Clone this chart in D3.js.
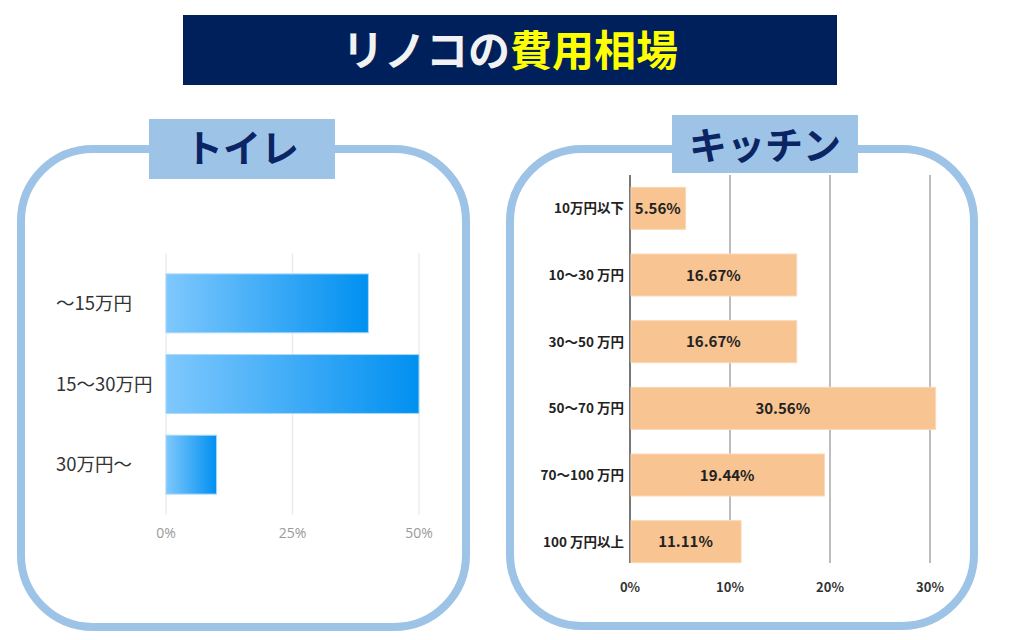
<!DOCTYPE html>
<html><head><meta charset="utf-8">
<script src="https://cdn.jsdelivr.net/npm/d3@7"></script>
<style>body{margin:0;background:#fff}svg{display:block}</style>
</head><body>
<svg id="c" width="1024" height="640"></svg>
<script>
const titleWhite = "リノコの";
const titleYellow = "費用相場";
const toiletTitle = "トイレ";
const toiletCats = ["～15万円", "15～30万円", "30万円～"];
const toiletVals = [40, 50, 10];
const toiletTicks = [0, 25, 50];
const kitchenTitle = "キッチン";
const kitchenCats = ["10万円以下", "10～30 万円", "30～50 万円", "50～70 万円", "70～100 万円", "100 万円以上"];
const kitchenVals = [5.56, 16.67, 16.67, 30.56, 19.44, 11.11];
const kitchenTicks = [0, 10, 20, 30];

const svg = d3.select("#c");
const JP = "'Noto Sans CJK JP','Noto Sans',sans-serif";
const defs = svg.append("defs");
const grad = defs.append("linearGradient").attr("id","bg").attr("x1","0%").attr("x2","100%");
grad.append("stop").attr("offset","0%").attr("stop-color","#7fc8fd");
grad.append("stop").attr("offset","100%").attr("stop-color","#0090f0");

// Title
svg.append("rect").attr("x",183).attr("y",15).attr("width",654).attr("height",70).attr("fill","#00205b");
const tt = svg.append("text").attr("x",510).attr("y",66).attr("text-anchor","middle")
  .attr("font-family",JP).attr("font-weight","bold").attr("font-size",42);
tt.append("tspan").attr("fill","#f2f2f2").text(titleWhite);
tt.append("tspan").attr("fill","#ffff00").text(titleYellow);

// Panels
function panel(x, y, w, h, bx, by, bw, bh, label, ty){
  svg.append("rect").attr("x",x).attr("y",y).attr("width",w).attr("height",h)
    .attr("rx",72).attr("ry",72).attr("fill","#fff").attr("stroke","#9dc3e6").attr("stroke-width",8);
  svg.append("rect").attr("x",bx).attr("y",by).attr("width",bw).attr("height",bh).attr("fill","#9dc3e6");
  svg.append("text").attr("x",bx+bw/2).attr("y",ty).attr("text-anchor","middle")
    .attr("font-family",JP).attr("font-weight","bold").attr("font-size",38).attr("fill","#0b2463").text(label);
}
panel(21,149,445,478,149,119,186,60,toiletTitle,162);
panel(510,149,464,477,672,115,186,58,kitchenTitle,159);

// Toilet chart
const x1 = d3.scaleLinear().domain([0,50]).range([166,419]);
const y1 = d3.scaleBand().domain(toiletCats).range([263,505]).paddingInner(0.27).paddingOuter(0.135);
const g1 = svg.append("g");
g1.selectAll("line.grid").data(toiletTicks).join("line")
  .attr("x1",d=>x1(d)).attr("x2",d=>x1(d)).attr("y1",253).attr("y2",515)
  .attr("stroke","#ececec").attr("stroke-width",1.5);
g1.selectAll("rect.bar").data(toiletVals).join("rect")
  .attr("x",x1(0)).attr("y",(d,i)=>y1(toiletCats[i]))
  .attr("width",d=>x1(d)-x1(0)).attr("height",y1.bandwidth())
  .attr("fill","url(#bg)").attr("stroke","#a9d8fb").attr("stroke-width",1);
g1.selectAll("text.cat").data(toiletCats).join("text")
  .attr("x",56).attr("y",d=>y1(d)+y1.bandwidth()/2).attr("dy","0.36em")
  .attr("font-family",JP).attr("font-size",18.5).attr("fill","#333").text(d=>d);
g1.selectAll("text.tick").data(toiletTicks).join("text")
  .attr("x",d=>x1(d)).attr("y",538).attr("text-anchor","middle")
  .attr("font-family","'Open Sans',sans-serif").attr("font-size",14).attr("fill","#9a9a9a").text(d=>d+"%");

// Kitchen chart
const x2 = d3.scaleLinear().domain([0,30]).range([630,930]);
const y2 = d3.scaleBand().domain(kitchenCats).range([175,575]).paddingInner(0.37).paddingOuter(0.185);
const g2 = svg.append("g");
g2.selectAll("line.grid").data(kitchenTicks).join("line")
  .attr("x1",d=>x2(d)).attr("x2",d=>x2(d)).attr("y1",175).attr("y2",563)
  .attr("stroke",d=>d===0?"#777":"#bdbdbd").attr("stroke-width",2);
g2.selectAll("rect.bar").data(kitchenVals).join("rect")
  .attr("x",x2(0)+1).attr("y",(d,i)=>y2(kitchenCats[i]))
  .attr("width",d=>x2(d)-x2(0)-1).attr("height",y2.bandwidth())
  .attr("fill","#f8c492").attr("stroke","#fbd8b5").attr("stroke-width",1);
g2.selectAll("text.val").data(kitchenVals).join("text")
  .attr("x",d=>(x2(0)+x2(d))/2).attr("y",(d,i)=>y2(kitchenCats[i])+y2.bandwidth()/2).attr("dy","0.38em")
  .attr("text-anchor","middle").attr("font-family",JP).attr("font-weight","bold").attr("font-size",15)
  .attr("fill","#222").text(d=>d.toFixed(2)+"%");
g2.selectAll("text.cat").data(kitchenCats).join("text")
  .attr("x",624).attr("y",d=>y2(d)+y2.bandwidth()/2).attr("dy","0.36em").attr("text-anchor","end")
  .attr("font-family",JP).attr("font-weight","bold").attr("font-size",13.5).attr("fill","#222").text(d=>d);
g2.selectAll("text.tick").data(kitchenTicks).join("text")
  .attr("x",d=>x2(d)).attr("y",592).attr("text-anchor","middle")
  .attr("font-family",JP).attr("font-weight","bold").attr("font-size",13).attr("fill","#333").text(d=>d+"%");
</script>
</body></html>
